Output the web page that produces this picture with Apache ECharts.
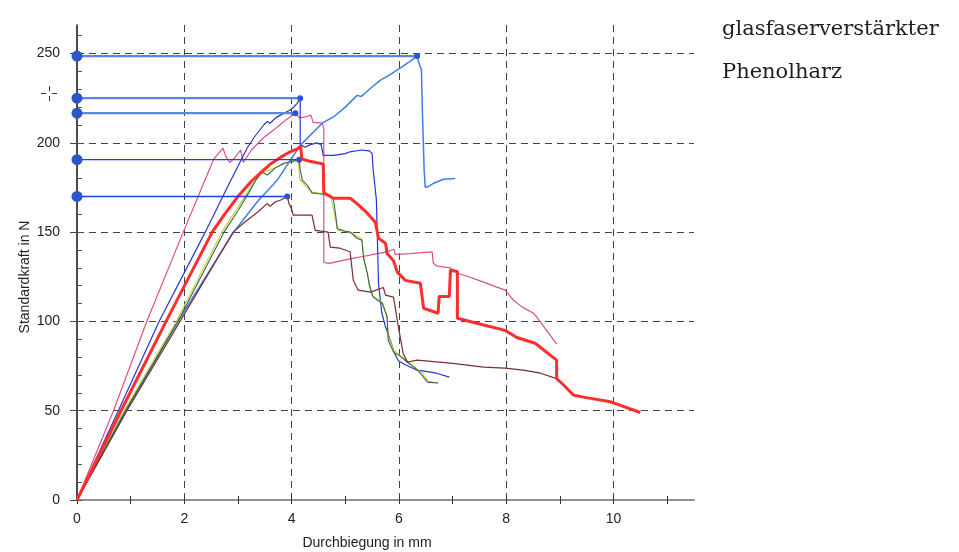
<!DOCTYPE html>
<html>
<head>
<meta charset="utf-8">
<script src="https://cdn.jsdelivr.net/npm/echarts@6/dist/echarts.min.js"></script>
<style>
  html, body { margin: 0; padding: 0; background: #ffffff; }
  #chart { width: 959px; height: 552px; }
</style>
</head>
<body>
<div id="chart"></div>
<script>
// Force–deflection curves of glass-fibre reinforced phenolic resin specimens
// Each point: [Durchbiegung in mm, Standardkraft in N]

const xTickLabels = [0, 2, 4, 6, 8, 10];
const xMinorTicks = [0, 1, 2, 3, 4, 5, 6, 7, 8, 9, 10, 11];
const yTickLabels = [0, 50, 100, 150, 200, 250];
const yMinorTicks = [0, 10, 20, 30, 40, 50, 60, 70, 80, 90, 100, 110, 120, 130, 140, 150, 160, 170, 180, 190, 200, 210, 220, 230, 240, 250, 260];

const curvePink = [
  [0, 0], [0.68, 50], [1.3, 100], [1.98, 150], [2.3, 173], [2.55, 191], [2.72, 197],
  [2.78, 192], [2.85, 189], [2.95, 192], [3.05, 196], [3.1, 189], [3.25, 196], [3.48, 203],
  [3.66, 207], [3.78, 210], [3.9, 213], [4.07, 216.6], [4.15, 214], [4.25, 214.5],
  [4.36, 215.5], [4.4, 211.5], [4.57, 211], [4.6, 208], [4.6, 133], [4.7, 132.5],
  [4.85, 133.5], [5.09, 135], [5.35, 136.5], [5.6, 138], [5.78, 139], [5.91, 140.4],
  [5.93, 137.6], [6.2, 138], [6.62, 139], [6.64, 132.6], [6.71, 131], [6.96, 130],
  [7.09, 127], [7.3, 125], [7.58, 122], [7.8, 119.5], [7.98, 117.5], [8.13, 112],
  [8.3, 108], [8.51, 104.6], [8.64, 99.6], [8.8, 93], [8.94, 87.3]
];

const curveDarkBlue = [
  [0, 0], [0.77, 50], [1.53, 100], [2.39, 150], [2.8, 175], [3.17, 197], [3.3, 203],
  [3.48, 210], [3.55, 212], [3.6, 211], [3.7, 214], [3.85, 216.5], [3.95, 218], [4.04, 220],
  [4.1, 222], [4.16, 225], [4.16, 199], [4.25, 197.5], [4.35, 199], [4.47, 200], [4.55, 199],
  [4.59, 193], [4.78, 193], [5.0, 194], [5.09, 195], [5.3, 196], [5.45, 195.5], [5.5, 194],
  [5.52, 185], [5.58, 168], [5.6, 145], [5.62, 121], [5.68, 105], [5.75, 97], [5.84, 89.5],
  [5.92, 82], [5.99, 78], [6.1, 76], [6.34, 72.7], [6.5, 72], [6.7, 71], [6.94, 68.8]
];

const curveLightBlue = [
  [0, 0], [0.92, 50], [1.88, 100], [2.92, 150], [3.36, 167], [3.73, 179], [4.16, 198.6],
  [4.57, 211], [4.78, 214.5], [5.0, 220], [5.22, 226.6], [5.3, 226], [5.45, 230],
  [5.65, 235], [5.85, 238.5], [6.03, 242], [6.2, 245.5], [6.34, 248.6], [6.38, 244],
  [6.42, 241], [6.44, 215], [6.47, 185], [6.49, 175.2], [6.55, 175.5], [6.65, 177.4],
  [6.83, 179.6], [7.05, 180]
];

const curveRed = [
  [0, 0], [0.82, 50], [1.66, 100], [2.52, 150], [2.75, 160], [3.0, 170], [3.25, 178.5],
  [3.45, 184], [3.6, 188], [3.8, 192], [3.97, 195], [4.1, 196.5], [4.17, 198], [4.19, 191],
  [4.3, 190], [4.45, 189], [4.53, 188.6], [4.59, 188], [4.6, 172], [4.78, 169], [5.09, 169],
  [5.22, 166], [5.41, 160.6], [5.56, 155.6], [5.62, 146.6], [5.75, 143.8], [5.78, 138],
  [5.9, 134], [5.97, 127.6], [6.12, 123], [6.4, 121.4], [6.46, 107.4], [6.73, 104.6],
  [6.75, 114], [6.94, 114], [6.96, 128.7], [7.09, 128], [7.09, 101.8], [7.58, 98],
  [7.98, 95], [8.2, 91], [8.54, 87.8], [8.94, 78.3], [8.94, 68], [9.07, 64.4], [9.25, 58.8],
  [9.44, 57.6], [9.94, 55], [10.13, 53], [10.5, 49]
];

const curveGreen = [
  [0, 0], [0.9, 50], [1.88, 100], [2.74, 150], [3.0, 162], [3.2, 172], [3.35, 180],
  [3.45, 183.6], [3.55, 182], [3.7, 186], [3.85, 188.6], [4.0, 189.5], [4.14, 190.6],
  [4.16, 185], [4.2, 179], [4.3, 176], [4.38, 172], [4.5, 171.5], [4.72, 170.7], [4.78, 168],
  [4.82, 160], [4.85, 152], [5.0, 150.5], [5.09, 150], [5.22, 146.6], [5.31, 145.5],
  [5.34, 136], [5.41, 127], [5.45, 120], [5.52, 113.6], [5.69, 110], [5.74, 106],
  [5.78, 102.4], [5.8, 89.5], [5.9, 82.8], [6.05, 80], [6.16, 77], [6.3, 74], [6.4, 71],
  [6.53, 66], [6.73, 65.5]
];

const curveYellow = [
  [0, 0], [0.88, 50], [1.85, 100], [2.7, 150], [3.0, 164], [3.3, 178], [3.45, 183],
  [3.6, 185], [3.85, 188], [4.1, 190.5], [4.13, 189], [4.15, 180], [4.25, 176],
  [4.38, 172.5], [4.72, 171], [4.8, 160], [4.86, 151], [5.1, 150], [5.31, 146], [5.35, 134],
  [5.42, 126], [5.5, 114.5], [5.7, 110.5], [5.78, 103], [5.8, 92], [5.9, 84], [6.2, 76.5],
  [6.42, 71.5], [6.55, 66.5], [6.73, 65.5]
];

const curveBrown = [
  [0, 0], [0.93, 50], [1.92, 100], [2.91, 150], [3.1, 155], [3.25, 158.5], [3.4, 162],
  [3.54, 166], [3.6, 164.5], [3.7, 167], [3.8, 168], [3.92, 170], [3.95, 166], [4.0, 163],
  [4.03, 159.5], [4.2, 159.5], [4.38, 159.5], [4.44, 151], [4.68, 150], [4.72, 141.6],
  [4.9, 141], [5.09, 139], [5.15, 123], [5.24, 117.5], [5.47, 116.4], [5.71, 119],
  [5.75, 114.7], [5.9, 113.6], [5.99, 96.8], [6.08, 82], [6.16, 77.2], [6.34, 78.3],
  [6.96, 76.7], [7.58, 74.4], [7.98, 73.9], [8.32, 72.7], [8.64, 71], [8.94, 68]
];

// Maximum forces, carried over to the force axis
const peakForce = [248.6, 225, 216.6, 190.6, 170];
const peakDeflection = [6.34, 4.16, 4.07, 4.14, 3.92];

const curveStyles = [
  { name: 'Probe 1', data: curvePink, color: '#dc4f86', width: 1.2, z: 3 },
  { name: 'Probe 2', data: curveDarkBlue, color: '#2436d0', width: 1.2, z: 3 },
  { name: 'Probe 3', data: curveLightBlue, color: '#3f7de8', width: 1.5, z: 3 },
  { name: 'Probe 4', data: curveYellow, color: '#d2ca28', width: 1.1, z: 3 },
  { name: 'Probe 5', data: curveGreen, color: '#2e6a50', width: 1.1, z: 3 },
  { name: 'Probe 6', data: curveBrown, color: '#7b2e2e', width: 1.2, z: 3 },
  { name: 'Probe 7', data: curveRed, color: '#ff2d2d', width: 3, z: 4 }
];

const markerColors = ['#5b85e6', '#5b85e6', '#5b85e6', '#1f3fe0', '#1f3fe0'];
const markerWidths = [2.2, 2.2, 2.2, 1.4, 1.4];

const gridColor = '#3b4652';
const labelFont = 'Liberation Sans, Arial, sans-serif';

const series = [];
curveStyles.forEach(function (c) {
  series.push({
    name: c.name,
    type: 'line',
    data: c.data,
    showSymbol: false,
    symbol: 'none',
    z: c.z,
    lineStyle: { color: c.color, width: c.width },
    silent: true
  });
});
peakForce.forEach(function (f, i) {
  series.push({
    name: 'Fmax ' + (i + 1),
    type: 'line',
    data: [[0, f], [peakDeflection[i], f]],
    showSymbol: true,
    symbol: 'circle',
    symbolSize: function (val, params) { return params.dataIndex === 0 ? 11 : 6; },
    itemStyle: { color: '#2b55c9' },
    lineStyle: { color: markerColors[i], width: markerWidths[i] },
    z: 6,
    silent: true
  });
});

// helper for tick-only overlay axes
function tickAxis(kind, values, inside, len, color) {
  return {
    type: 'value', min: 0, max: kind === 'x' ? 11.5 : 266,
    interval: kind === 'x' ? 1 : 10,
    position: kind === 'x' ? 'bottom' : 'left', offset: 0,
    axisLine: { show: false },
    axisTick: { show: true, inside: inside, length: len, customValues: values, lineStyle: { color: color, width: 1 } },
    axisLabel: { show: false },
    splitLine: { show: false }
  };
}

const chart = echarts.init(document.getElementById('chart'), null, { renderer: 'canvas' });
chart.setOption({
  animation: false,
  backgroundColor: '#ffffff',
  grid: { left: 77, right: 265, top: 25, bottom: 52, containLabel: false },
  xAxis: [
    {
      type: 'value', min: 0, max: 11.5, interval: 2, position: 'bottom',
      axisLine: { show: true, onZero: false, lineStyle: { color: '#8a9499', width: 2 } },
      axisTick: { show: false },
      axisLabel: { showMaxLabel: false, margin: 12, fontSize: 14, color: '#222', fontFamily: labelFont },
      splitLine: { show: true, showMinLine: false, showMaxLine: false, lineStyle: { color: gridColor, type: [7, 5], width: 1 } }
    },
    tickAxis('x', xMinorTicks, false, 4, '#333'),
    tickAxis('x', xMinorTicks, true, 4, '#333')
  ],
  yAxis: [
    {
      type: 'value', min: 0, max: 266, interval: 50, position: 'left',
      axisLine: { show: true, onZero: false, lineStyle: { color: '#111', width: 1.5 } },
      axisTick: { show: false },
      axisLabel: { showMaxLabel: false, margin: 17, fontSize: 14, color: '#222', fontFamily: labelFont },
      splitLine: { show: true, showMinLine: false, showMaxLine: false, lineStyle: { color: gridColor, type: [7, 5], width: 1 } }
    },
    tickAxis('y', yMinorTicks, true, 5, '#555'),
    tickAxis('y', yTickLabels, false, 7, gridColor)
  ],
  series: series,
  graphic: [
    {
      type: 'text', left: 722, top: 19,
      style: { text: 'glasfaserverstärkter', font: '21px "DejaVu Serif", serif', fill: '#1e1e1e' }
    },
    {
      type: 'text', left: 722, top: 62,
      style: { text: 'Phenolharz', font: '21px "DejaVu Serif", serif', fill: '#1e1e1e' }
    },
    {
      type: 'text', x: 367, y: 543,
      style: { text: 'Durchbiegung in mm', font: '14px "Liberation Sans", Arial, sans-serif', fill: '#222', align: 'center', verticalAlign: 'middle' }
    },
    {
      type: 'text', x: 25, y: 277, rotation: Math.PI / 2,
      style: { text: 'Standardkraft in N', font: '14px "Liberation Sans", Arial, sans-serif', fill: '#222', align: 'center', verticalAlign: 'middle' }
    },
    // small cursor cross left of the force axis
    { type: 'line', shape: { x1: 41, y1: 93.5, x2: 46, y2: 93.5 }, style: { stroke: '#333', lineWidth: 1 } },
    { type: 'line', shape: { x1: 52, y1: 93.5, x2: 57, y2: 93.5 }, style: { stroke: '#333', lineWidth: 1 } },
    { type: 'line', shape: { x1: 49.5, y1: 86, x2: 49.5, y2: 91 }, style: { stroke: '#333', lineWidth: 1 } },
    { type: 'line', shape: { x1: 49.5, y1: 96, x2: 49.5, y2: 101 }, style: { stroke: '#333', lineWidth: 1 } }
  ]
});
</script>
</body>
</html>
